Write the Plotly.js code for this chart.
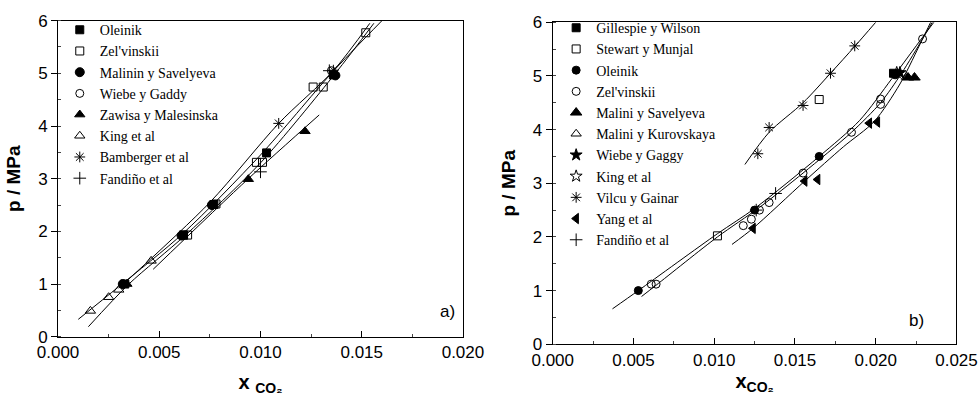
<!DOCTYPE html>
<html>
<head>
<meta charset="utf-8">
<script src="https://cdn.plot.ly/plotly-3.0.1.min.js"></script>
<style>html,body{margin:0;padding:0;background:#fff}#chart{width:980px;height:405px}</style>
</head>
<body>
<div id="chart"></div>
<script>
// ---------- Panel a) data ----------
const aOleinikX = [0.0033, 0.0062, 0.0077, 0.0103, 0.0136];
const aOleinikP = [1.00, 1.93, 2.51, 3.49, 4.97];
const aZelX = [0.0062, 0.0064, 0.0078, 0.0098, 0.0101, 0.0126, 0.0131, 0.0152];
const aZelP = [1.93, 1.93, 2.52, 3.31, 3.31, 4.74, 4.74, 5.77];
const aMalininX = [0.0032, 0.0061, 0.0076, 0.0137];
const aMalininP = [1.00, 1.92, 2.50, 4.96];
const aWiebeX = [0.0076, 0.0135];
const aWiebeP = [2.50, 5.05];
const aZawisaX = [0.0034, 0.0094, 0.0122];
const aZawisaP = [1.00, 2.99, 3.90];
const aKingX = [0.0016, 0.0025, 0.0030, 0.0046];
const aKingP = [0.49, 0.75, 0.89, 1.44];
const aBambergerX = [0.0109, 0.0136];
const aBambergerP = [4.05, 5.06];
const aFandinoX = [0.0100, 0.0134];
const aFandinoP = [3.13, 5.05];
// fitted curves, panel a
const aFit1X = [0.0010, 0.0030, 0.0062, 0.0100, 0.0135, 0.0160];
const aFit1P = [0.33, 0.95, 1.97, 3.45, 5.00, 6.00];
const aFit2X = [0.0015, 0.0035, 0.0063, 0.0100, 0.0137, 0.0156];
const aFit2P = [0.19, 1.00, 1.93, 3.30, 5.00, 5.95];
const aFit3X = [0.0047, 0.0094, 0.0129];
const aFit3P = [1.28, 3.00, 4.21];
const aFit4X = [0.0030, 0.0075, 0.0109, 0.0136, 0.0154];
const aFit4P = [0.92, 2.55, 4.05, 5.05, 5.95];

// ---------- Panel b) data ----------
const bGillespieX = [0.0211];
const bGillespieP = [5.05];
const bStewartX = [0.0102, 0.0165];
const bStewartP = [2.02, 4.56];
const bOleinikX = [0.0053, 0.0125, 0.0165, 0.0212];
const bOleinikP = [1.00, 2.50, 3.50, 5.02];
const bZelX = [0.0061, 0.0064, 0.0118, 0.0123, 0.0128, 0.0134, 0.0155, 0.0185, 0.0203, 0.0203, 0.0229];
const bZelP = [1.12, 1.12, 2.21, 2.33, 2.50, 2.64, 3.19, 3.95, 4.57, 4.47, 5.69];
const bMaliniSavX = [0.0220, 0.0224];
const bMaliniSavP = [4.97, 4.97];
const bMaliniKurX = [0.0219];
const bMaliniKurP = [4.98];
const bWiebeX = [0.0215];
const bWiebeP = [5.06];
const bKingX = [0.0213];
const bKingP = [5.06];
const bVilcuX = [0.0127, 0.0134, 0.0155, 0.0172, 0.0187];
const bVilcuP = [3.55, 4.04, 4.45, 5.05, 5.56];
const bYangX = [0.0124, 0.0156, 0.0164, 0.0196, 0.0201];
const bYangP = [2.16, 3.04, 3.07, 4.12, 4.14];
const bFandinoX = [0.0138, 0.0126];
const bFandinoP = [2.81, 2.50];
// fitted curves, panel b
const bFitVX = [0.0119, 0.0134, 0.0155, 0.0172, 0.0187, 0.0200];
const bFitVP = [3.35, 3.95, 4.50, 5.05, 5.55, 6.00];
const bFit1X = [0.0037, 0.0053, 0.0102, 0.0125, 0.0165, 0.0190, 0.0210, 0.0229, 0.0236];
const bFit1P = [0.66, 1.00, 2.06, 2.53, 3.50, 4.17, 4.95, 5.72, 6.00];
const bFit2X = [0.0055, 0.0064, 0.0102, 0.0128, 0.0155, 0.0185, 0.0203, 0.0216, 0.0229, 0.0235];
const bFit2P = [0.89, 1.10, 2.00, 2.55, 3.19, 3.95, 4.50, 5.05, 5.69, 6.00];
const bFit3X = [0.0111, 0.0124, 0.0156, 0.0180, 0.0199, 0.0215, 0.0229, 0.0234];
const bFit3P = [1.86, 2.16, 3.04, 3.68, 4.15, 4.85, 5.69, 6.00];

const blk = '#000';
function pts(x, y, name, symbol, size, xa, ya, legend) {
  return {x: x, y: y, name: name, type: 'scatter', mode: 'markers',
    xaxis: xa, yaxis: ya, legend: legend,
    marker: {symbol: symbol, size: size, color: blk, line: {color: blk, width: 1}}};
}
function fit(x, y, xa, ya) {
  return {x: x, y: y, type: 'scatter', mode: 'lines', xaxis: xa, yaxis: ya,
    showlegend: false, hoverinfo: 'skip',
    line: {color: blk, width: 1, shape: 'spline', smoothing: 0.8}};
}

const traces = [
  fit(aFit1X, aFit1P, 'x', 'y'),
  fit(aFit2X, aFit2P, 'x', 'y'),
  fit(aFit3X, aFit3P, 'x', 'y'),
  fit(aFit4X, aFit4P, 'x', 'y'),
  pts(aOleinikX, aOleinikP, 'Oleinik', 'square', 8, 'x', 'y', 'legend'),
  pts(aZelX, aZelP, "Zel'vinskii", 'square-open', 8, 'x', 'y', 'legend'),
  pts(aMalininX, aMalininP, 'Malinin y Savelyeva', 'circle', 9, 'x', 'y', 'legend'),
  pts(aWiebeX, aWiebeP, 'Wiebe y Gaddy', 'circle-open', 8, 'x', 'y', 'legend'),
  pts(aZawisaX, aZawisaP, 'Zawisa y Malesinska', 'triangle-up', 9, 'x', 'y', 'legend'),
  pts(aKingX, aKingP, 'King et al', 'triangle-up-open', 9, 'x', 'y', 'legend'),
  pts(aBambergerX, aBambergerP, 'Bamberger et al', 'asterisk-open', 9, 'x', 'y', 'legend'),
  pts(aFandinoX, aFandinoP, 'Fandiño et al', 'cross-thin-open', 9, 'x', 'y', 'legend'),

  fit(bFitVX, bFitVP, 'x2', 'y2'),
  fit(bFit1X, bFit1P, 'x2', 'y2'),
  fit(bFit2X, bFit2P, 'x2', 'y2'),
  fit(bFit3X, bFit3P, 'x2', 'y2'),
  pts(bGillespieX, bGillespieP, 'Gillespie y Wilson', 'square', 8, 'x2', 'y2', 'legend2'),
  pts(bStewartX, bStewartP, 'Stewart y Munjal', 'square-open', 8, 'x2', 'y2', 'legend2'),
  pts(bOleinikX, bOleinikP, 'Oleinik', 'circle', 8, 'x2', 'y2', 'legend2'),
  pts(bZelX, bZelP, "Zel'vinskii", 'circle-open', 8, 'x2', 'y2', 'legend2'),
  pts(bMaliniSavX, bMaliniSavP, 'Malini y Savelyeva', 'triangle-up', 10, 'x2', 'y2', 'legend2'),
  pts(bMaliniKurX, bMaliniKurP, 'Malini y Kurovskaya', 'triangle-up-open', 9, 'x2', 'y2', 'legend2'),
  pts(bWiebeX, bWiebeP, 'Wiebe y Gaggy', 'star', 9, 'x2', 'y2', 'legend2'),
  pts(bKingX, bKingP, 'King et al', 'star-open', 9, 'x2', 'y2', 'legend2'),
  pts(bVilcuX, bVilcuP, 'Vilcu y Gainar', 'asterisk-open', 9, 'x2', 'y2', 'legend2'),
  pts(bYangX, bYangP, 'Yang et al', 'triangle-left', 9, 'x2', 'y2', 'legend2'),
  pts(bFandinoX, bFandinoP, 'Fandiño et al', 'cross-thin-open', 9, 'x2', 'y2', 'legend2')
];

const sans = '"Liberation Sans", Arial, sans-serif';
const tickFont = {family: sans, size: 17, color: blk};
const titleFont = {family: sans, size: 20, color: blk};
function xAx(domain, range, anchor, titleText, standoff) {
  return {domain: domain, range: range, anchor: anchor, dtick: 0.005, tick0: 0,
    tickformat: '.3f', ticks: 'inside', ticklen: 6, tickcolor: blk, tickwidth: 1,
    minor: {dtick: 0.0025, ticks: 'inside', ticklen: 3, tickcolor: '#444'},
    showline: true, linecolor: blk, linewidth: 1, mirror: true,
    showgrid: false, zeroline: false, tickfont: tickFont, fixedrange: true,
    title: {text: titleText, font: titleFont, standoff: standoff}};
}
function yAx(domain, anchor) {
  return {domain: domain, range: [0, 6], anchor: anchor, dtick: 1, tick0: 0,
    ticks: 'outside', ticklen: 6, tickcolor: blk, tickwidth: 1,
    minor: {dtick: 0.5, ticks: 'inside', ticklen: 3, tickcolor: '#444'},
    showline: true, linecolor: blk, linewidth: 1, mirror: true,
    showgrid: false, zeroline: false, tickfont: tickFont, fixedrange: true,
    title: {text: '<b>p / MPa</b>', font: {family: sans, size: 19, color: blk}, standoff: 12}};
}

const legendFont = {family: '"Liberation Serif", "Times New Roman", Times, serif', size: 14, color: blk};
const layout = {
  width: 980, height: 405,
  margin: {l: 0, r: 0, t: 0, b: 0},
  paper_bgcolor: '#fff', plot_bgcolor: '#fff',
  showlegend: true,
  xaxis: xAx([0.0592, 0.4724], [0, 0.020], 'y', '<b>x</b> <sub><b>CO₂</b></sub>', 13),
  yaxis: yAx([0.1686, 0.949], 'x'),
  xaxis2: xAx([0.564, 0.976], [0, 0.025], 'y2', '<b>x</b><sub><b>CO₂</b></sub>', 3),
  yaxis2: yAx([0.150, 0.945], 'x2'),
  legend: {x: 0.061, y: 0.965, xanchor: 'left', yanchor: 'top', bgcolor: 'rgba(0,0,0,0)',
    font: legendFont, tracegroupgap: 0, itemclick: false},
  legend2: {x: 0.5675, y: 0.97, xanchor: 'left', yanchor: 'top', bgcolor: 'rgba(0,0,0,0)',
    font: legendFont, tracegroupgap: 0, itemclick: false},
  annotations: [
    {text: 'a)', xref: 'paper', yref: 'paper', x: 447 / 980, y: 1 - 323 / 405, showarrow: false,
     font: {family: sans, size: 17, color: blk}},
    {text: 'b)', xref: 'paper', yref: 'paper', x: 926 / 980, y: 1 - 332 / 405, showarrow: false,
     font: {family: sans, size: 17, color: blk}}
  ]
};

Plotly.newPlot('chart', traces, layout, {staticPlot: true, displayModeBar: false});
</script>
</body>
</html>
